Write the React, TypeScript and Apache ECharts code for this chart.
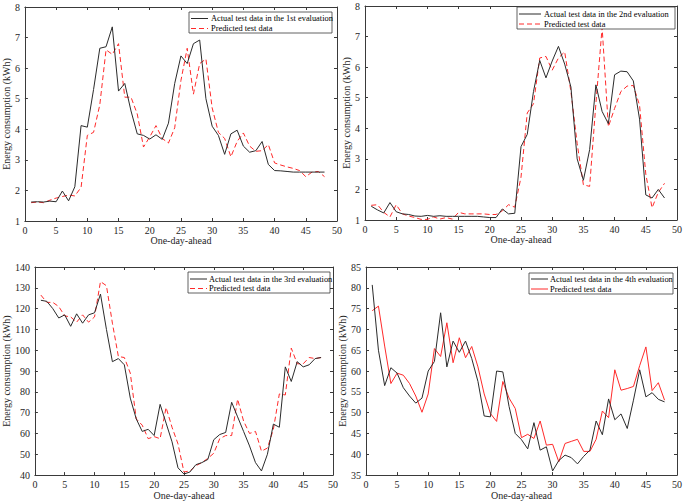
import React, { useEffect, useRef } from "react";
import * as echarts from "echarts";

const days = Array.from({ length: 48 }, (_, i) => i + 1);

const actual1 = [1.62, 1.63, 1.62, 1.65, 1.63, 1.98, 1.66, 2.12, 4.12, 4.07, 5.3, 6.65, 6.7, 7.35, 5.25, 5.5, 4.6, 3.85, 3.8, 3.68, 3.82, 3.67, 4.2, 5.5, 6.4, 6.15, 6.8, 6.92, 5.0, 4.1, 3.8, 3.18, 3.85, 3.97, 3.45, 3.25, 3.3, 3.6, 2.85, 2.65, 2.64, 2.62, 2.6, 2.6, 2.6, 2.6, 2.6, 2.6];
const pred1 = [1.6, 1.62, 1.6, 1.68, 1.75, 1.8, 1.85, 1.82, 2.1, 3.8, 3.9, 4.8, 6.6, 6.45, 6.8, 5.05, 5.05, 4.5, 3.42, 3.75, 4.12, 3.7, 3.55, 4.05, 5.6, 6.65, 5.15, 6.15, 6.3, 4.7, 3.9, 3.7, 3.1, 3.6, 3.88, 3.45, 3.28, 3.3, 3.5, 2.9, 2.83, 2.77, 2.72, 2.65, 2.45, 2.6, 2.62, 2.45];

const actual2 = [1.45, 1.33, 1.23, 1.57, 1.27, 1.2, 1.18, 1.13, 1.12, 1.15, 1.12, 1.14, 1.12, 1.12, 1.12, 1.12, 1.12, 1.12, 1.1, 1.08, 1.08, 1.36, 1.2, 1.22, 3.4, 3.8, 5.2, 6.22, 5.65, 6.2, 6.68, 6.1, 5.35, 3.0, 2.3, 3.3, 5.42, 4.55, 4.15, 5.75, 5.87, 5.85, 5.55, 4.3, 1.82, 1.72, 2.0, 1.72];
const pred2 = [1.48, 1.5, 1.25, 1.1, 1.5, 1.2, 1.13, 1.08, 1.02, 1.02, 1.1, 1.03, 1.08, 1.03, 1.25, 1.2, 1.2, 1.2, 1.2, 1.18, 1.18, 1.3, 1.5, 1.42, 2.4, 4.5, 4.8, 6.3, 6.35, 5.9, 6.3, 6.5, 5.2, 3.5, 2.15, 2.1, 4.8, 7.3, 4.05, 4.65, 5.2, 5.38, 5.4, 4.75, 2.5, 1.4, 1.9, 2.2];

const actual3 = [124, 123.5, 120, 115.5, 117, 111.5, 117.5, 113, 117, 118, 127, 110, 94.5, 96, 93, 77, 67, 61, 62, 59, 74, 65, 56, 43.5, 40.5, 41.5, 45, 46, 47.5, 57, 59.5, 60.5, 75, 68, 61, 54, 46, 42, 50, 64.5, 63, 92, 85, 94.5, 92, 93, 96, 96.5];
const pred3 = [126.5, 123, 123, 121, 116.5, 116, 113.5, 117, 113.5, 116, 133, 131, 113, 97, 96.5, 89, 67, 64, 57.5, 58.5, 57.5, 72.5, 63, 55, 41.5, 42, 44.5, 46, 48, 50.5, 57.5, 59, 59, 76.5, 66, 60, 61, 51.5, 53, 62, 79, 78.5, 101, 93.5, 93.5, 96.5, 96, 96.5];

const actual4 = [80.7, 65, 56.5, 60.8, 59.5, 56, 54, 52.3, 53.5, 60, 62.3, 74, 61, 67.2, 64.5, 67.2, 63, 57.5, 49.2, 49, 60, 59.8, 51.5, 45, 43.5, 41.3, 47.6, 41, 41.8, 36, 38.5, 39.8, 39.2, 37.7, 39.5, 41, 48, 44.7, 53.3, 48.3, 49.7, 46.2, 53, 60.3, 53.8, 54.8, 53.2, 52.6];
const pred4 = [74.5, 75.6, 66, 57, 59.5, 59, 57, 54, 50.1, 54.5, 65.4, 63.5, 71.6, 62, 68, 63.2, 65.9, 61, 54.5, 49.8, 47.9, 57.5, 53.5, 51, 44, 44.8, 43.8, 48, 42.2, 42.4, 38.2, 42.6, 43.1, 43.6, 40.7, 40.7, 43.6, 50.4, 48.8, 60.3, 55.4, 55.8, 56.3, 61.3, 65.8, 55.3, 57.2, 53];

const actualNames = [
  "Actual test data in the 1st evaluation",
  "Actual test data in the 2nd evaluation",
  "Actual test data in the 3rd evaluation",
  "Actual test data in the 4th evaluation",
];
const predName = "Predicted test data";
const yRanges = [
  [1, 8, 1],
  [1, 8, 1],
  [40, 140, 10],
  [35, 85, 5],
];
const xTicks = [0, 50, 5];
const xName = "One-day-ahead";
const yName = "Energy consumption (kWh)";

const FONT = "Liberation Serif";
const AXIS_COLOR = "#3a3a3a";

const panels = [
  { grid: { left: 23, top: 7, width: 314, height: 214 }, yGap: 11, xGap: 12, legend: { x0: 189, x1: 332, y0: 12, y1: 33, l1: 18.5, l2: 28.5, s0: 191, s1: 208, t: 211 }, actual: actual1, pred: pred1, dashed: true },
  { grid: { left: 365, top: 6, width: 315, height: 214 }, yGap: 9, xGap: 12, legend: { x0: 517, x1: 675, y0: 7, y1: 29, l1: 14, l2: 24, s0: 519, s1: 541, t: 544 }, actual: actual2, pred: pred2, dashed: true },
  { grid: { left: 29, top: 267, width: 304, height: 210 }, yGap: 19, xGap: 10, legend: { x0: 188, x1: 330, y0: 272, y1: 293, l1: 279, l2: 288.5, s0: 190, s1: 207, t: 209 }, actual: actual3, pred: pred3, dashed: true },
  { grid: { left: 366, top: 267, width: 313, height: 211 }, yGap: 14, xGap: 10, legend: { x0: 529, x1: 673, y0: 273, y1: 294, l1: 279, l2: 289, s0: 531, s1: 548, t: 550 }, actual: actual4, pred: pred4, dashed: false },
];

function buildOption() {
  const grid: any[] = [];
  const xAxis: any[] = [];
  const yAxis: any[] = [];
  const series: any[] = [];
  const graphic: any[] = [];

  panels.forEach((p, i) => {
    grid.push({ ...p.grid, containLabel: false });
    const [ymin, ymax, yint] = yRanges[i];
    const common = {
      axisLine: { show: true, onZero: false, lineStyle: { color: AXIS_COLOR, width: 1 } },
      axisTick: { show: true, inside: true, length: 3, lineStyle: { color: AXIS_COLOR } },
      splitLine: { show: false },
    };
    xAxis.push({
      type: "value", gridIndex: i, min: xTicks[0], max: xTicks[1], interval: xTicks[2],
      position: "bottom", ...common,
      axisLabel: { color: "#262626", fontFamily: FONT, fontSize: 10, margin: 4 },
      name: xName, nameLocation: "middle", nameGap: p.xGap,
      nameTextStyle: { color: "#262626", fontFamily: FONT, fontSize: 10 },
    });
    xAxis.push({
      type: "value", gridIndex: i, min: xTicks[0], max: xTicks[1], interval: xTicks[2],
      position: "top", ...common, axisLabel: { show: false },
    });
    yAxis.push({
      type: "value", gridIndex: i, min: ymin, max: ymax, interval: yint,
      position: "left", ...common,
      axisLabel: { color: "#262626", fontFamily: FONT, fontSize: 10, margin: 5 },
      name: yName, nameLocation: "middle", nameGap: p.yGap,
      nameTextStyle: { color: "#262626", fontFamily: FONT, fontSize: 10 },
    });
    yAxis.push({
      type: "value", gridIndex: i, min: ymin, max: ymax, interval: yint,
      position: "right", ...common, axisLabel: { show: false },
    });

    series.push({
      type: "line", name: actualNames[i], xAxisIndex: 2 * i, yAxisIndex: 2 * i,
      data: days.map((d, k) => [d, p.actual[k]]), symbol: "none",
      lineStyle: { color: "#2b2b2b", width: 1 }, z: 3,
    });
    series.push({
      type: "line", name: predName, xAxisIndex: 2 * i, yAxisIndex: 2 * i,
      data: days.map((d, k) => [d, p.pred[k]]), symbol: "none",
      lineStyle: { color: "#ff2a2a", width: 1, type: p.dashed ? [5, 3] : "solid" }, z: 2,
    });

    const L = p.legend;
    graphic.push({
      type: "rect", shape: { x: L.x0, y: L.y0, width: L.x1 - L.x0, height: L.y1 - L.y0 },
      style: { fill: "#fff", stroke: "#3a3a3a", lineWidth: 0.8 }, z: 10,
    });
    graphic.push({
      type: "line", shape: { x1: L.s0, y1: L.l1, x2: L.s1, y2: L.l1 },
      style: { stroke: "#2b2b2b", lineWidth: 1 }, z: 11,
    });
    graphic.push({
      type: "line", shape: { x1: L.s0, y1: L.l2, x2: L.s1, y2: L.l2 },
      style: { stroke: "#ff2a2a", lineWidth: 1, lineDash: p.dashed ? [5, 3] : null }, z: 11,
    });
    graphic.push({
      type: "text", x: L.t, y: L.l1, z: 11,
      style: { text: actualNames[i], fill: "#000", font: `8.4px "${FONT}"`, verticalAlign: "middle", align: "left" },
    });
    graphic.push({
      type: "text", x: L.t, y: L.l2, z: 11,
      style: { text: predName, fill: "#000", font: `8.4px "${FONT}"`, verticalAlign: "middle", align: "left" },
    });
  });

  return { animation: false, backgroundColor: "#fff", grid, xAxis, yAxis, series, graphic };
}

export default function App() {
  const ref = useRef<HTMLDivElement>(null);
  useEffect(() => {
    if (!ref.current) return;
    const chart = echarts.init(ref.current, undefined, { renderer: "svg" });
    chart.setOption(buildOption() as any);
    return () => chart.dispose();
  }, []);
  return (
    <div
      ref={ref}
      style={{ position: "fixed", left: 0, top: 0, width: 685, height: 501, background: "#fff" }}
    />
  );
}
